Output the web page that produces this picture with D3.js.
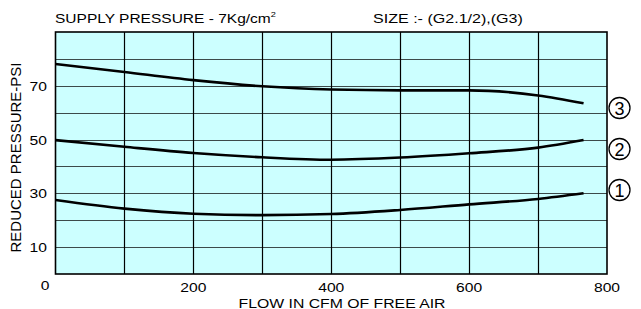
<!DOCTYPE html>
<html><head><meta charset="utf-8">
<script src="https://cdn.jsdelivr.net/npm/d3@7"></script>
<style>body{margin:0;background:#fff}svg{display:block}text{font-family:"Liberation Sans",Arial,sans-serif;fill:#000}</style>
</head><body>
<svg id="c" width="641" height="309"></svg>
<script>
const flow = [0, 100, 200, 300, 400, 500, 600, 700, 766];
const curve3 = [78.1, 75.1, 72.1, 69.8, 68.6, 68.3, 68.3, 66.4, 63.5];
const curve2 = [49.8, 47.3, 45.0, 43.4, 42.5, 43.3, 44.9, 47.0, 49.8];
const curve1 = [27.5, 24.3, 22.4, 21.9, 22.3, 23.8, 25.9, 27.9, 30.0];
const seriesLabels = ["1", "2", "3"];
const xTicks = [200, 400, 600, 800];
const yTicks = [10, 30, 50, 70];
const xGrid = [100, 200, 300, 400, 500, 600, 700];
const yGrid = [10, 20, 30, 40, 50, 60, 70, 80];

const SX = 1.16; // horizontal stretch of the lettering
const svg = d3.select("#c");
const x = d3.scaleLinear().domain([0, 800]).range([55.5, 607]);
const y = d3.scaleLinear().domain([0, 90]).range([274, 32]);

svg.append("rect").attr("x", x(0)).attr("y", y(90)).attr("width", x(800) - x(0)).attr("height", y(0) - y(90)).attr("fill", "#ccffff");

svg.selectAll(".hg").data(yGrid).join("line").attr("x1", x(0)).attr("x2", x(800))
  .attr("y1", d => Math.round(y(d)) + 0.5).attr("y2", d => Math.round(y(d)) + 0.5)
  .attr("stroke", "#3c4a4a").attr("stroke-width", 1.2);
svg.selectAll(".vg").data(xGrid).join("line").attr("y1", y(0)).attr("y2", y(90))
  .attr("x1", d => Math.round(x(d)) + 0.5).attr("x2", d => Math.round(x(d)) + 0.5)
  .attr("stroke", "#000").attr("stroke-width", 1.2);

svg.append("rect").attr("x", x(0)).attr("y", y(90)).attr("width", x(800) - x(0)).attr("height", y(0) - y(90))
  .attr("fill", "none").attr("stroke", "#000").attr("stroke-width", 1.6);

const line = d3.line().x(d => x(d[0])).y(d => y(d[1])).curve(d3.curveMonotoneX);
[curve1, curve2, curve3].forEach(c => {
  svg.append("path").attr("d", line(flow.map((f, i) => [f, c[i]])))
    .attr("fill", "none").attr("stroke", "#000").attr("stroke-width", 2.6);
});

function txt(px, py, s, anchor, size, sx) {
  return svg.append("text").attr("transform", `translate(${px},${py}) scale(${sx || SX},1)`)
    .attr("text-anchor", anchor).attr("font-size", size).text(s);
}

xTicks.forEach(d => txt(x(d), 291.5, d, "middle", 13.5));
txt(45, 289.5, "0", "middle", 13.5);
yTicks.forEach(d => txt(47, y(d) + 5, d, "end", 13.5));

txt(342, 307.5, "FLOW IN CFM OF FREE AIR", "middle", 13.5, 1.17);
svg.append("text").attr("transform", "translate(20.5,157.5) rotate(-90)").attr("text-anchor", "middle").attr("font-size", 15).text("REDUCED PRESSURE-PSI");

const t = txt(55, 23, "", "start", 13.5, 1.15);
t.append("tspan").text("SUPPLY PRESSURE - 7Kg/cm");
t.append("tspan").attr("font-size", 8).attr("dy", -6).text("2");
txt(373, 23, "SIZE :- (G2.1/2),(G3)", "start", 13.5, 1.19);

const labelY = [190, 149, 108];
const g = svg.selectAll(".cl").data(seriesLabels).join("g").attr("transform", (d, i) => `translate(619.5,${labelY[i]})`);
g.append("circle").attr("r", 10.5).attr("fill", "#fff").attr("stroke", "#000").attr("stroke-width", 1.3);
g.append("text").attr("text-anchor", "middle").attr("y", 6.5).attr("font-size", 18).text(d => d);
</script>
</body></html>
